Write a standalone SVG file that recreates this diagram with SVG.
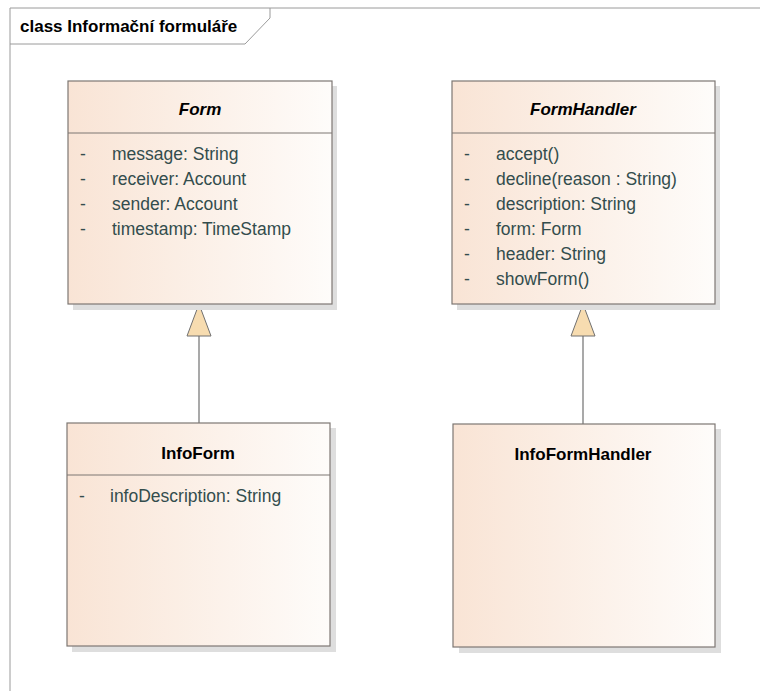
<svg xmlns="http://www.w3.org/2000/svg" width="760" height="691" viewBox="0 0 760 691">
<style>
.box{fill:url(#g);stroke:#7d7773;stroke-width:1.2}
.shadow{fill:#dedede}
.sep{stroke:#7d7773;stroke-width:1}
.title{font-family:"Liberation Sans",Arial,sans-serif;font-size:17px;font-weight:bold;fill:#000;text-anchor:middle}
.it{font-style:italic}
.attr{font-family:"Liberation Sans",Arial,sans-serif;font-size:17.5px;fill:#334d4d}
.frame{stroke:#9a9a9a;stroke-width:1;fill:none}
.conn{stroke:#707070;stroke-width:1.2;fill:none}
.tri{fill:#f7dcb0;stroke:#707070;stroke-width:1}
</style>
<defs>
<linearGradient id="g" x1="0" y1="0" x2="1" y2="0">
<stop offset="0" stop-color="#f9e4d5"/>
<stop offset="1" stop-color="#fefcfa"/>
</linearGradient>
</defs>
<rect width="760" height="691" fill="#fff"/>
<g id="frame">
<path class="frame" d="M10,691 V8 H760"/>
<path class="frame" d="M10,44 H245 L270,18 V8"/>
<text x="20" y="32" font-family="'Liberation Sans',Arial,sans-serif" font-size="17" font-weight="bold" fill="#000">class Informační formuláře</text>
</g>
<g id="connectors">
<path class="conn" d="M199,336 V423"/>
<polygon class="tri" points="199,304 187,336 211,336"/>
<path class="conn" d="M583,336 V424"/>
<polygon class="tri" points="583,304 571,336 595,336"/>
</g>
<g id="Form">
<rect class="shadow" x="73" y="86" width="264" height="224"/>
<rect class="box" x="68" y="81" width="264" height="223"/>
<line class="sep" x1="68" y1="133" x2="332" y2="133"/>
<text class="title it" x="200" y="115">Form</text>
<text class="attr" x="80" y="160">-</text><text class="attr" x="112" y="160">message: String</text>
<text class="attr" x="80" y="185">-</text><text class="attr" x="112" y="185">receiver: Account</text>
<text class="attr" x="80" y="210">-</text><text class="attr" x="112" y="210">sender: Account</text>
<text class="attr" x="80" y="235">-</text><text class="attr" x="112" y="235">timestamp: TimeStamp</text>
</g>
<g id="FormHandler">
<rect class="shadow" x="457" y="86" width="263" height="224"/>
<rect class="box" x="452" y="81" width="263" height="223"/>
<line class="sep" x1="452" y1="133" x2="715" y2="133"/>
<text class="title it" x="583" y="115">FormHandler</text>
<text class="attr" x="464" y="160">-</text><text class="attr" x="496" y="160">accept()</text>
<text class="attr" x="464" y="185">-</text><text class="attr" x="496" y="185">decline(reason : String)</text>
<text class="attr" x="464" y="210">-</text><text class="attr" x="496" y="210">description: String</text>
<text class="attr" x="464" y="235">-</text><text class="attr" x="496" y="235">form: Form</text>
<text class="attr" x="464" y="260">-</text><text class="attr" x="496" y="260">header: String</text>
<text class="attr" x="464" y="285">-</text><text class="attr" x="496" y="285">showForm()</text>
</g>
<g id="InfoForm">
<rect class="shadow" x="72" y="428" width="264" height="224"/>
<rect class="box" x="67" y="423" width="263" height="223"/>
<line class="sep" x1="67" y1="475" x2="330" y2="475"/>
<text class="title" x="198" y="459">InfoForm</text>
<text class="attr" x="79" y="502">-</text><text class="attr" x="110" y="502">infoDescription: String</text>
</g>
<g id="InfoFormHandler">
<rect class="shadow" x="459" y="429" width="262" height="224"/>
<rect class="box" x="453" y="424" width="262" height="223"/>
<text class="title" x="583" y="460">InfoFormHandler</text>
</g>
</svg>
